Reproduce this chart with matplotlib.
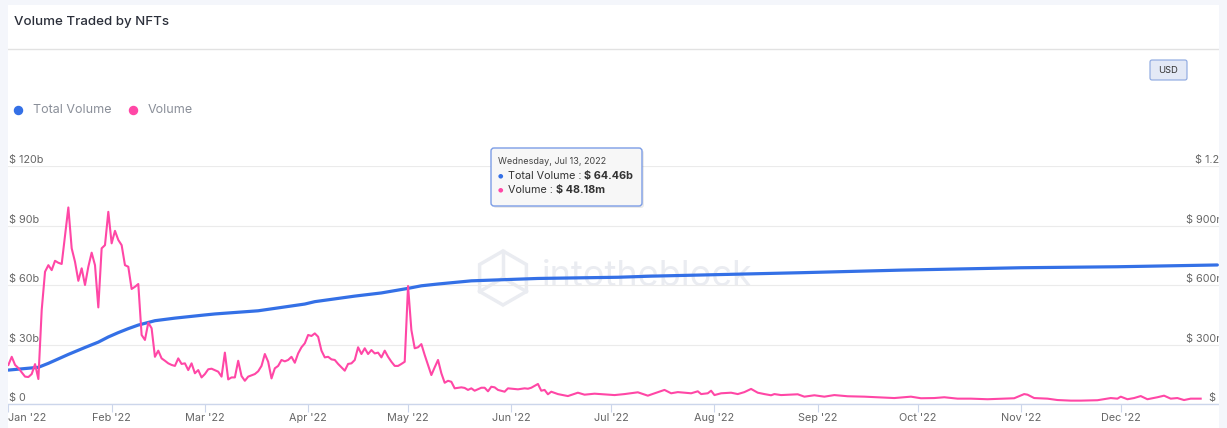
import matplotlib
matplotlib.use("Agg")
import matplotlib.pyplot as plt
from matplotlib.patches import Rectangle, FancyBboxPatch, RegularPolygon
from matplotlib.lines import Line2D
from matplotlib.transforms import IdentityTransform
import pandas as pd

plt.rcParams["font.family"] = ["Inter", "DejaVu Sans"]

W, H = 1227, 428
BLUE = "#3470e6"
PINK = "#ff47a6"
PAGE = "#f4f6fb"

# daily NFT volume (millions USD, right axis), day offset from 2022-01-01
vol_days = [0, 1, 2, 3, 5, 6, 7, 8, 9, 10, 11, 12, 13, 14, 15, 16, 18, 19, 20, 21, 22, 23, 24, 25, 26, 27, 28, 29, 30,
            31, 32, 33, 34, 35, 36, 37, 38, 39, 40, 41, 42, 43, 44, 45, 46, 47, 48, 49, 50, 51, 52, 53, 54, 55, 56, 57, 58,
            59, 60, 61, 63, 64, 65, 66, 67, 68, 69, 70, 71, 72, 74, 75, 76, 77, 78, 79, 80, 81, 82, 83, 84, 85, 86, 87, 88, 89,
            90, 91, 92, 93, 94, 95, 96, 97, 98, 99, 100, 101, 102, 103, 104, 105, 106, 107, 108, 109, 110, 111, 112, 113, 114,
            115, 116, 117, 118, 119,
            120, 121, 122, 123, 124, 125, 126, 127, 128, 129, 130, 131, 132, 133, 134, 136, 137, 138, 139, 140, 142, 143, 144,
            145, 146, 147, 149, 150,
            152, 153, 155, 156, 157, 159, 160, 161, 162, 163, 165, 168, 171, 173, 176, 180,
            182, 185, 189, 192, 193, 197, 199, 201, 205, 207, 208, 210, 211,
            212, 214, 217, 219, 221, 223, 225, 227, 229, 230, 232, 237, 239, 242,
            245, 248, 252, 257, 261, 266, 271, 274, 278, 281, 285, 289, 294, 299, 302,
            305, 306, 308, 312, 315, 319, 322, 327, 330, 331, 333, 334, 336, 338, 340, 342, 345, 347, 349, 351, 353, 355, 358]
vol_m = [197, 238, 197, 181, 138, 136, 151, 201, 126, 474, 667, 700, 675, 722, 712, 706, 991, 785, 717, 621, 684, 600, 692, 763, 700, 487, 785, 801, 969,
         810, 873, 827, 801, 700, 692, 580, 591, 605, 348, 323, 410, 382, 238, 269, 230, 218, 205, 197, 192, 230, 202, 205, 171, 205, 155, 171, 134,
         151, 175, 178, 163, 138, 259, 124, 134, 134, 218, 141, 117, 138, 151, 165, 192, 252, 213, 129, 180, 192, 222, 215, 222, 238, 208, 255, 286, 306,
         348, 343, 356, 339, 269, 235, 238, 225, 222, 202, 185, 168, 202, 205, 222, 286, 252, 281, 252, 272, 255, 259, 235, 269, 238,
         213, 192, 192, 202, 213,
         595, 373, 281, 286, 302, 247, 197, 146, 185, 222, 155, 107, 117, 112, 79, 84, 81, 71, 79, 67, 82, 82, 64,
         87, 84, 71, 62, 79,
         76, 74, 79, 77, 82, 101, 67, 71, 49, 62, 50, 40, 57, 47, 52, 47,
         45, 50, 59, 42, 48, 71, 54, 60, 54, 64, 50, 54, 67,
         45, 54, 57, 50, 60, 76, 57, 50, 44, 50, 45, 49, 37, 44,
         37, 45, 39, 37, 34, 30, 37, 29, 30, 34, 27, 27, 24, 27, 29,
         50, 47, 30, 27, 20, 17, 17, 19, 27, 30, 27, 37, 24, 30, 40, 24, 34, 42, 27, 30, 20, 27, 27]

# cumulative total volume (billions USD, left axis)
total_days = [0, 9, 12, 18, 23, 27, 30, 33, 36, 39, 44, 50, 59, 62, 75, 89, 92, 104, 112, 120, 124, 129,
              139, 159, 183, 193, 207, 238, 268, 304, 333, 363]
total_b = [17.1, 18.5, 20.5, 25.0, 28.5, 31.2, 33.8, 36.0, 38.0, 39.8, 42.0, 43.3, 44.9, 45.4, 47.0, 50.4, 51.6, 54.4, 56.0, 58.3, 59.6, 60.5,
           62.1, 63.3, 63.9, 64.46, 65.0, 66.2, 67.5, 68.7, 69.2, 70.1]

month_ticks = ["2022-01-01", "2022-02-01", "2022-03-01", "2022-04-01", "2022-05-01", "2022-06-01",
               "2022-07-01", "2022-08-01", "2022-09-01", "2022-10-01", "2022-11-01", "2022-12-01"]
month_labels = ["Jan '22", "Feb '22", "Mar '22", "Apr '22", "May '22", "Jun '22",
                "Jul '22", "Aug '22", "Sep '22", "Oct '22", "Nov '22", "Dec '22"]
left_ticks = [0, 30, 60, 90, 120]
left_labels = ["$ 0", "$ 30b", "$ 60b", "$ 90b", "$ 120b"]
right_ticks = [0, 300, 600, 900, 1200]
right_labels = ["$ 0", "$ 300m", "$ 600m", "$ 900m", "$ 1.2b"]

start = pd.Timestamp("2022-01-01")
vol_dates = start + pd.to_timedelta(vol_days, unit="D")
total_dates = start + pd.to_timedelta(total_days, unit="D")

fig = plt.figure(figsize=(W / 100, H / 100), dpi=100, facecolor=PAGE)
px = IdentityTransform()


def Y(py):
    return H - py


# white card
fig.patches.append(Rectangle((8, 0), 1211, Y(5), transform=px, fc="white", ec="none", zorder=-10))

ax = fig.add_axes([8.4 / W, Y(404) / H, (1219 - 8.4) / W, (404 - 166) / H])
ax.set_facecolor("none")
ax.plot(total_dates, total_b, color=BLUE, lw=2.3, solid_capstyle="round", zorder=3)
ax.set_ylim(0, 120)
ax.set_xlim(start, start + pd.Timedelta(days=363.5))
ax.set_yticks(left_ticks)
ax.yaxis.grid(True, color="#ebebeb", lw=0.8)
ax.tick_params(axis="y", length=0, labelleft=False)
for s in ["top", "left", "right"]:
    ax.spines[s].set_visible(False)
ax.spines["bottom"].set_color("#ccd6eb")
ax.spines["bottom"].set_linewidth(1)
ax.set_xticks(pd.to_datetime(month_ticks))
ax.set_xticklabels(month_labels, fontsize=7.8, color="#666666")
ax.tick_params(axis="x", length=5.8, width=0.8, color="#ccd6eb", pad=1.0)
ax.get_xticklabels()[0].set_ha("left")

for v, lbl in zip(left_ticks, left_labels):
    ax.annotate(lbl, xy=(0, v), xycoords=("axes fraction", "data"), xytext=(0.6, 4.3),
                textcoords="offset points", ha="left", va="center", fontsize=7.8, color="#666666",
                annotation_clip=False)

ax2 = ax.twinx()
ax2.plot(vol_dates, vol_m, color=PINK, lw=1.5, zorder=3)
ax2.set_ylim(0, 1200)
ax2.set_yticks([])
for s in ax2.spines.values():
    s.set_visible(False)
for v, lbl in zip(right_ticks, right_labels):
    ax2.annotate(lbl, xy=(1, v), xycoords=("axes fraction", "data"), xytext=(5.0, 4.3),
                 textcoords="offset points", ha="right", va="center", fontsize=7.8, color="#666666",
                 annotation_clip=False)

# watermark
fig.text(542, Y(276), "intotheblock", transform=px, fontsize=26, color="#eaecf1",
         ha="left", va="center", zorder=-5)
fig.patches.append(RegularPolygon((503, Y(278)), numVertices=6, radius=27, transform=px,
                                  fill=False, ec="#eaecf1", lw=2.5, zorder=-5))
for ang_x, ang_y in [(0, 27), (-23.4, -13.5), (23.4, -13.5)]:
    fig.add_artist(Line2D([503, 503 + ang_x], [Y(278), Y(278) + ang_y], transform=px,
                          color="#eaecf1", lw=2.5, zorder=-5))

# page strips (clip right axis labels)
fig.patches.append(Rectangle((1219, 0), W - 1219, H, transform=px, fc=PAGE, ec="none", zorder=20))
fig.patches.append(Rectangle((0, 0), 8, H, transform=px, fc=PAGE, ec="none", zorder=20))

# header
fig.text(14, Y(22), "Volume Traded by NFTs", transform=px, fontsize=9.6, fontweight="medium",
         color="#2b2f3a", va="center", ha="left")
fig.add_artist(Line2D([8, 1219], [Y(49), Y(49)], transform=px, color="#e2e2e2", lw=1))

# USD button
fig.patches.append(FancyBboxPatch((1150, Y(80)), 37, 20, boxstyle="round,pad=0,rounding_size=2",
                                  transform=px, fc="#e3e9f6", ec="#8aa6e0", lw=0.8))
fig.text(1168.5, Y(70.5), "USD", transform=px, fontsize=6.8, color="#333333", ha="center", va="center")

# legend
for x, col, lbl in [(18, BLUE, "Total Volume"), (133, PINK, "Volume")]:
    fig.add_artist(Line2D([x], [Y(110)], transform=px, marker="o", ms=5.8, color=col, ls=""))
    fig.text(x + 15, Y(110), lbl, transform=px, fontsize=9, color="#8a8f99", va="center", ha="left")

# tooltip
fig.patches.append(FancyBboxPatch((493, Y(208)), 151, 58, boxstyle="round,pad=0,rounding_size=3",
                                  transform=px, fc="#000000", ec="none", alpha=0.08, zorder=30))
fig.patches.append(FancyBboxPatch((491, Y(206)), 151, 58, boxstyle="round,pad=0,rounding_size=3",
                                  transform=px, fc="#f7f7f7", ec="#7c9de6", lw=1, zorder=31))
fig.text(498, Y(161), "Wednesday, Jul 13, 2022", transform=px, fontsize=6.5, color="#444444",
         va="center", ha="left", zorder=32)
renderer = fig.canvas.get_renderer()
for yy, col, name, val in [(176, BLUE, "Total Volume : ", "$ 64.46b"), (190, PINK, "Volume : ", "$ 48.18m")]:
    fig.text(500.5, Y(yy), "\u25cf", transform=px, fontsize=4.5, color=col, va="center", ha="center",
             family=["DejaVu Sans"], zorder=32)
    t = fig.text(508, Y(yy), name, transform=px, fontsize=7.8, color="#333333", va="center", ha="left", zorder=32)
    bb = t.get_window_extent(renderer)
    fig.text(bb.x1, Y(yy), val, transform=px, fontsize=7.8, fontweight="bold", color="#333333",
             va="center", ha="left", zorder=32)

fig.savefig("out.png", dpi=100, facecolor=PAGE)
